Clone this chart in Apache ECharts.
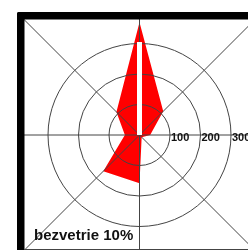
<!DOCTYPE html>
<html><head><meta charset="utf-8">
<script src="https://cdn.jsdelivr.net/npm/echarts@6/dist/echarts.min.js"></script>
<style>html,body{margin:0;padding:0;background:#fff}#c{width:248px;height:250px}</style>
</head><body><div id="c"></div>
<script>
// wind directions and frequencies (radius units of the rings)
const directions = ['N', 'NE', 'E', 'SE', 'S', 'SW', 'W', 'NW'];
const frequency = [370, 110, 35, 10, 158, 168, 48, 107];
const ringValues = [100, 200, 300];
const northStripe = [0, 305];
const calmText = 'bezvetrie 10%';

const step = 360 / directions.length;
const roseData = directions.map((d, i) => [frequency[i], i * step]);
roseData.push([frequency[0], 360]);
const stripeData = northStripe.map(v => [v, 0]);

const CX = 139.5, CY = 135, PX_PER_UNIT = 0.305;
const ringMax = ringValues[ringValues.length - 1];
const ringStep = ringValues[0];
const outerMax = 560;
const FONT = 'Liberation Sans, Arial, sans-serif';

const chart = echarts.init(document.getElementById('c'), null, {renderer: 'canvas'});
chart.setOption({
  animation: false,
  backgroundColor: '#fff',
  title: {
    text: calmText, left: 34, top: 228, padding: 0,
    textStyle: {fontFamily: FONT, fontWeight: 'bold', fontSize: 15, color: '#111'}
  },
  polar: [
    {center: [CX, CY], radius: outerMax * PX_PER_UNIT},
    {center: [CX, CY], radius: ringMax * PX_PER_UNIT}
  ],
  angleAxis: [
    {polarIndex: 0, type: 'value', min: 0, max: 360, interval: step, startAngle: 90, clockwise: true, z: 3,
     axisLine: {show: false}, axisTick: {show: false}, axisLabel: {show: false},
     splitLine: {show: true, lineStyle: {color: '#444', width: 1}}},
    {polarIndex: 1, type: 'value', min: 0, max: 360, startAngle: 0, z: 3,
     axisLine: {show: false}, axisTick: {show: false}, axisLabel: {show: false}, splitLine: {show: false}}
  ],
  radiusAxis: [
    {polarIndex: 0, type: 'value', min: 0, max: outerMax, z: 3,
     axisLine: {show: false}, axisTick: {show: false}, axisLabel: {show: false}, splitLine: {show: false}},
    {polarIndex: 1, type: 'value', min: 0, max: ringMax, interval: ringStep, z: 3,
     axisLine: {show: false}, axisTick: {show: false},
     axisLabel: {show: true, showMinLabel: false, align: 'left', verticalAlign: 'top', margin: 3,
                 padding: [0, 0, 0, 1],
                 fontFamily: FONT, fontWeight: 'bold', fontSize: 11, color: '#111'},
     splitLine: {show: true, lineStyle: {color: '#444', width: 1}}}
  ],
  series: [
    {type: 'line', coordinateSystem: 'polar', polarIndex: 0, data: roseData, z: 2, clip: false,
     symbol: 'none', lineStyle: {width: 0, color: '#ff0000'},
     areaStyle: {color: '#ff0000', opacity: 1}},
    {type: 'line', coordinateSystem: 'polar', polarIndex: 0, data: stripeData, z: 5, clip: false,
     symbol: 'none', lineStyle: {width: 5, color: '#ffffff', cap: 'butt'}}
  ],
  graphic: [
    {type: 'rect', z: 10, shape: {x: 0, y: 0, width: 17, height: 250}, style: {fill: '#fff'}},
    {type: 'rect', z: 10, shape: {x: 0, y: 0, width: 248, height: 12}, style: {fill: '#fff'}},
    {type: 'rect', z: 11, shape: {x: 17, y: 12, width: 7.5, height: 240, r: [2, 0, 0, 0]}, style: {fill: '#000'}},
    {type: 'rect', z: 11, shape: {x: 17, y: 12, width: 240, height: 7.5, r: [2, 0, 0, 0]}, style: {fill: '#000'}},
    {type: 'line', z: 11, shape: {x1: 24, y1: 249.5, x2: 248, y2: 249.5}, style: {stroke: '#444', lineWidth: 1}}
  ]
});
</script></body></html>
